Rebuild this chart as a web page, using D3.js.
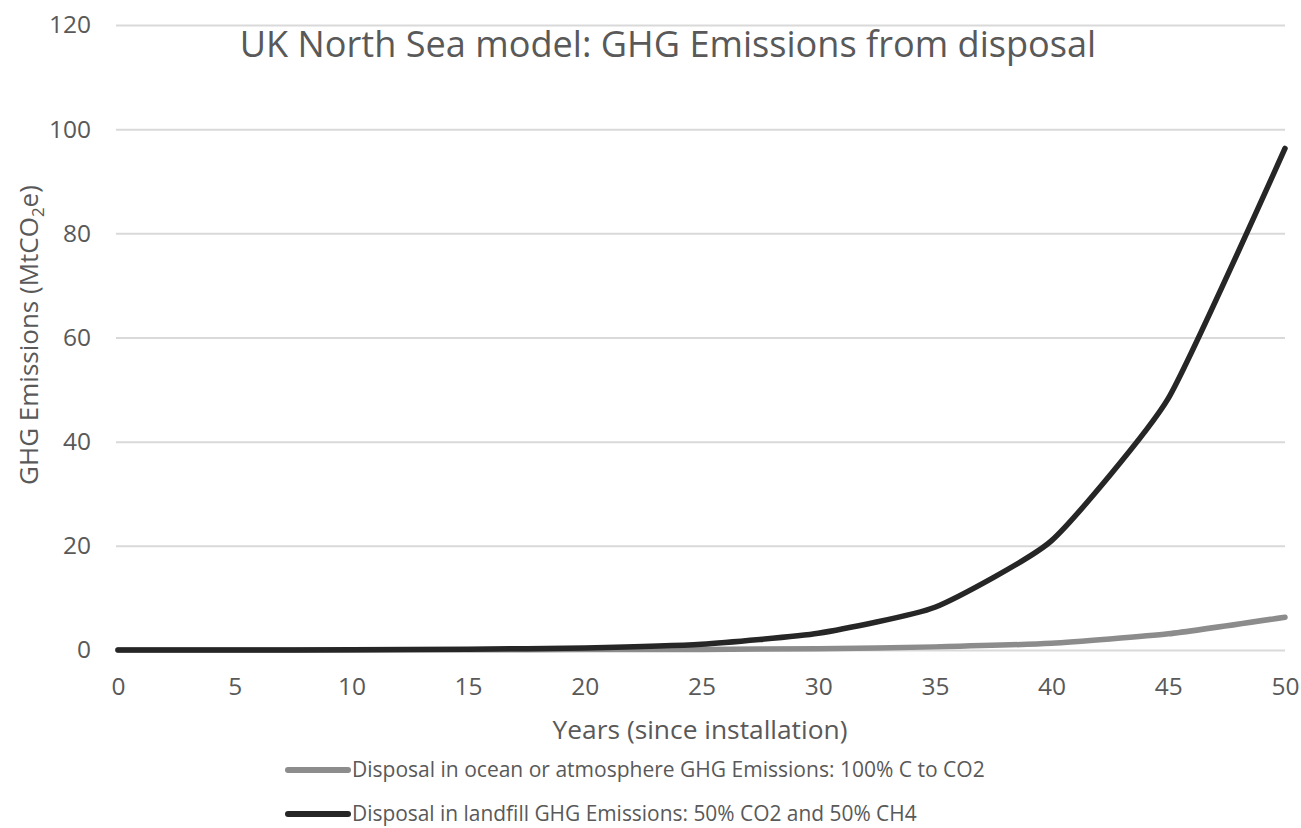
<!DOCTYPE html>
<html>
<head>
<meta charset="utf-8">
<style>
    body { margin: 0; background: white; }
    svg { font-family: 'Open Sans', 'Noto Sans', sans-serif; }
    .tick text { fill: #595959; }
</style>
</head>
<body>
<svg width="1301" height="828"></svg>
<script src="https://d3js.org/d3.v7.min.js"></script>
<script>
    // data
    let years = [0, 5, 10, 15, 20, 25, 30, 35, 40, 45, 50]
    let oceanValues = [0, 0, 0.02, 0.05, 0.08, 0.12, 0.25, 0.6, 1.3, 3.1, 6.3]
    let landfillValues = [0, 0, 0.05, 0.15, 0.4, 1.1, 3.2, 8.2, 21, 48.3, 96.3]
    let yTicks = [0, 20, 40, 60, 80, 100, 120]
    let xTicks = [0, 5, 10, 15, 20, 25, 30, 35, 40, 45, 50]
    let seriesNames = ["Disposal in ocean or atmosphere GHG Emissions: 100% C to CO2",
                       "Disposal in landfill GHG Emissions: 50% CO2 and 50% CH4"]
    let seriesColors = ["#8c8c8c", "#262626"]

    let svg = d3.select("svg")
    let textColor = "#595959"

    let x = d3.scaleLinear().domain([0, 50]).range([118, 1285])
    let y = d3.scaleLinear().domain([0, 120]).range([650, 25])

    // fit a text element to a width
    function fit(sel, width) {
        let w = sel.node().getComputedTextLength()
        let fs = parseFloat(sel.attr("font-size"))
        sel.attr("font-size", fs * width / w)
    }

    // gridlines + y labels
    svg.append("g")
        .attr("transform", "translate(116,0)")
        .call(d3.axisLeft(y).tickValues(yTicks).tickSize(-1169).tickPadding(25))
        .attr("font-family", null).attr("font-size", 24.5)
        .call(g => g.select(".domain").remove())
        .call(g => g.selectAll(".tick line").attr("stroke", "#d9d9d9").attr("stroke-width", 2))

    // x labels
    svg.append("g")
        .attr("transform", "translate(0,650)")
        .call(d3.axisBottom(x).tickValues(xTicks).tickSize(0).tickPadding(28))
        .attr("font-family", null).attr("font-size", 24.5)
        .call(g => g.select(".domain").remove())

    let line = d3.line()
        .x((d, i) => x(years[i]))
        .y(d => y(d))
        .curve(d3.curveCardinal.tension(0.5))

    let series = [oceanValues, landfillValues]
    svg.append("g")
        .selectAll("path")
        .data(series)
        .join("path")
        .attr("d", d => line(d))
        .attr("fill", "none")
        .attr("stroke", (d, i) => seriesColors[i])
        .attr("stroke-width", 5.5)
        .attr("stroke-linecap", "round")
        .attr("stroke-linejoin", "round")

    // title
    let title = svg.append("text")
        .attr("x", 668).attr("y", 57)
        .attr("text-anchor", "middle")
        .attr("font-size", 30)
        .attr("fill", textColor)
        .text("UK North Sea model: GHG Emissions from disposal")
    fit(title, 857)

    // axis titles
    let xTitle = svg.append("text")
        .attr("x", 700).attr("y", 739)
        .attr("text-anchor", "middle")
        .attr("font-size", 22)
        .attr("fill", textColor)
        .text("Years (since installation)")
    fit(xTitle, 295)

    let yTitle = svg.append("text")
        .attr("transform", "translate(38,335) rotate(-90)")
        .attr("text-anchor", "middle")
        .attr("font-size", 26)
        .attr("fill", textColor)
    yTitle.append("tspan").text("GHG Emissions (MtCO")
    yTitle.append("tspan").attr("font-size", 17).attr("dy", 6).text("2")
    yTitle.append("tspan").attr("dy", -6).text("e)")

    // legend
    let legend = svg.append("g")
        .selectAll("g")
        .data(seriesNames)
        .join("g")
        .attr("transform", (d, i) => `translate(288,${770 + i * 44})`)
    legend.append("line")
        .attr("x1", 0).attr("x2", 60)
        .attr("stroke", (d, i) => seriesColors[i])
        .attr("stroke-width", 6)
        .attr("stroke-linecap", "round")
    legend.append("text")
        .attr("x", 64).attr("y", 7)
        .attr("font-size", 20)
        .attr("fill", textColor)
        .text(d => d)
        .each(function (d, i) { fit(d3.select(this), i == 0 ? 633 : 565) })
</script>
</body>
</html>
